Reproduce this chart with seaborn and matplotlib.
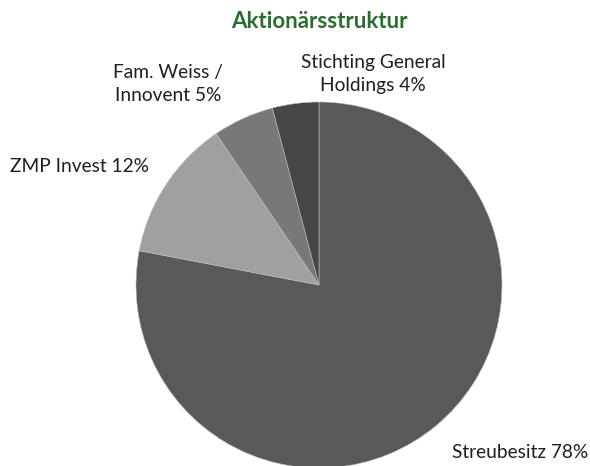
import matplotlib
matplotlib.use("Agg")
import matplotlib.pyplot as plt
import seaborn as sns

categories = ["Streubesitz", "ZMP Invest", "Fam. Weiss /\nInnovent", "Stichting General\nHoldings"]
values = [78.0, 12.5, 5.4, 4.1]
pct_labels = ["78%", "12%", "5%", "4%"]
colors = ["#595959", "#a0a0a0", "#787878", "#464646"]

sns.set_theme(style="white")
plt.rcParams['font.family'] = ['Lato', 'DejaVu Sans']

W, H = 590, 466
fig = plt.figure(figsize=(W / 100, H / 100), dpi=100)
cx, cy, r = 319, 285, 183
ax = fig.add_axes([(cx - r) / W, (H - cy - r) / H, 2 * r / W, 2 * r / H])
ax.pie(values, colors=colors, startangle=90, counterclock=False, radius=1,
       wedgeprops=dict(edgecolor="#bfbfbf", linewidth=0.4))
ax.set_xlim(-1, 1)
ax.set_ylim(-1, 1)
ax.set_aspect("equal")
ax.axis("off")

fig.text(319 / W, 1 - 21 / H, "Aktionärsstruktur", ha="center", va="center",
         fontsize=16, fontweight="bold", color="#2e6b30")

label_pos = [(520, 452), (79, 167), (168, 84), (373, 74)]
for cat, pct, (x, y) in zip(categories, pct_labels, label_pos):
    fig.text(x / W, 1 - y / H, f"{cat} {pct}", ha="center", va="center",
             fontsize=13.8, color="#1f1f1f", linespacing=1.45)

fig.savefig("out.png", dpi=100)
